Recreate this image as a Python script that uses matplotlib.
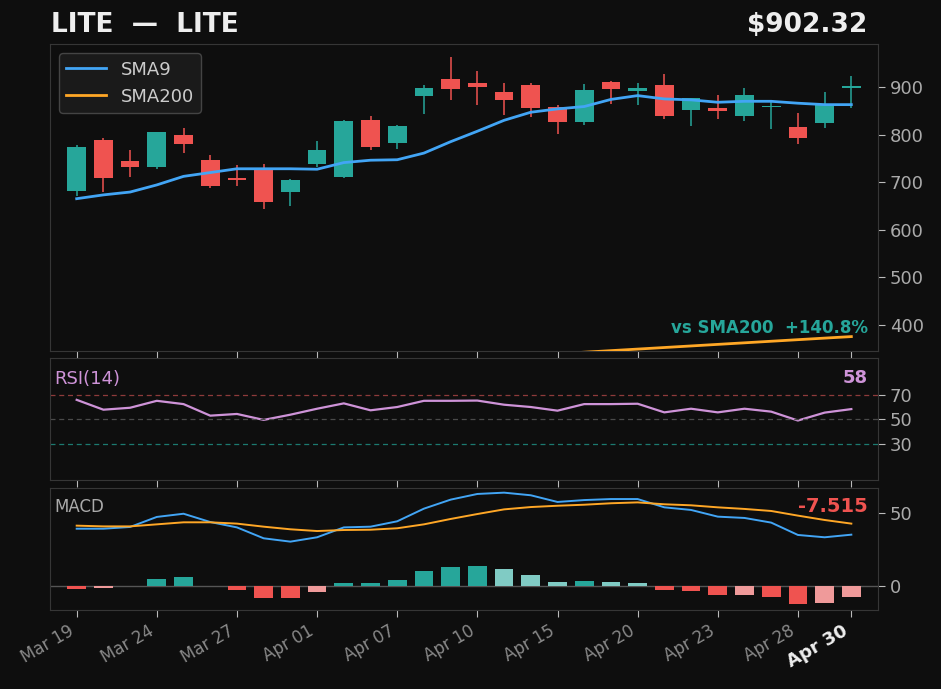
import matplotlib
matplotlib.use("Agg")
import matplotlib.pyplot as plt
import numpy as np

# daily bars, Mar 19 -> Apr 30
dates = ["Mar 19", "Mar 20", "Mar 23", "Mar 24", "Mar 25", "Mar 26", "Mar 27", "Mar 30",
         "Mar 31", "Apr 01", "Apr 02", "Apr 06", "Apr 07", "Apr 08", "Apr 09", "Apr 10",
         "Apr 13", "Apr 14", "Apr 15", "Apr 16", "Apr 17", "Apr 20", "Apr 21", "Apr 22",
         "Apr 23", "Apr 24", "Apr 27", "Apr 28", "Apr 29", "Apr 30"]
opens = [681, 788, 744, 732, 799, 746, 708, 727, 679, 738, 711, 830, 782, 882, 917,
         909, 889, 904, 858, 827, 911, 892, 904, 852, 855, 840, 859, 816, 825, 899]
closes = [773, 709, 732, 805, 780, 692, 705, 658, 704, 767, 828, 774, 818, 898, 896,
          901, 873, 856, 827, 894, 896, 897, 839, 877, 850, 883, 861, 793, 862, 902.32]
highs = [777, 792, 768, 806, 813, 756, 736, 737, 706, 787, 831, 839, 820, 904, 964,
         934, 909, 908, 863, 906, 913, 909, 928, 877, 884, 898, 870, 846, 890, 924]
lows = [671, 680, 711, 728, 762, 687, 691, 643, 650, 731, 708, 767, 769, 843, 873,
        863, 841, 836, 801, 820, 864, 863, 832, 818, 832, 828, 811, 780, 813, 856]

sma9 = [665, 673, 679, 694, 712, 720, 728, 728, 728, 727, 741, 746, 747, 761, 785,
        807, 830, 847, 854, 859, 874, 882, 875, 873, 868, 870, 870, 866, 863, 863]
sma200 = [287.0, 289.8, 292.5, 295.3, 298.1, 300.8, 303.5, 306.1, 308.8, 311.5,
          314.3, 317.2, 320.0, 323.0, 326.1, 329.2, 332.3, 335.4, 338.6, 341.8,
          345.1, 348.4, 351.7, 355.0, 358.3, 361.6, 364.9, 368.2, 371.5, 374.7]

rsi = [65.9, 57.8, 59.4, 65.1, 62.4, 52.9, 54.3, 49.4, 53.7, 58.6, 63.0, 57.3, 60.0,
       65.1, 65.1, 65.3, 61.9, 60.0, 57.0, 62.4, 62.4, 62.7, 55.6, 58.6, 55.6, 58.6,
       56.2, 48.9, 55.4, 58.3]

macd = [39.4, 39.4, 40.6, 47.5, 49.7, 44.0, 40.3, 32.8, 30.5, 33.5, 40.3, 40.8, 44.5,
        53.2, 59.4, 63.3, 64.2, 62.4, 57.8, 59.1, 59.8, 59.8, 54.1, 52.3, 47.7, 46.8,
        43.6, 35.1, 33.5, 35.3]
signal = [41.5, 41.0, 41.0, 42.4, 43.8, 43.8, 42.9, 40.8, 39.0, 37.8, 38.5, 38.7, 39.7,
          42.4, 46.1, 49.5, 52.7, 54.3, 55.2, 55.9, 56.9, 57.5, 56.2, 55.5, 54.1, 53.0,
          51.6, 48.4, 45.4, 42.9]
hist = [-1.8, -1.1, 0.0, 4.8, 6.2, 0.0, -2.5, -8.0, -8.1, -3.9, 2.1, 2.2, 4.1, 10.3,
        13.1, 13.8, 11.7, 7.6, 2.8, 3.4, 2.8, 2.1, -2.5, -3.4, -6.0, -5.9, -7.3, -12.2,
        -11.5, -7.515]

tick_idx = [0, 3, 6, 9, 12, 15, 18, 21, 24, 27, 29]

BG = "#0e0e0e"
UP = "#26a69a"
DOWN = "#ef5350"
SPINE = "#363636"
TXT = "#aaaaaa"

x = np.arange(len(dates))

fig = plt.figure(figsize=(9.41, 6.89), dpi=100, facecolor=BG)
ax = fig.add_axes([0.0531, 0.491, 0.880, 0.4447], facecolor=BG)
ax_rsi = fig.add_axes([0.0531, 0.3033, 0.880, 0.1766], facecolor=BG, sharex=ax)
ax_macd = fig.add_axes([0.0531, 0.1147, 0.880, 0.1766], facecolor=BG, sharex=ax)

for a in (ax, ax_rsi, ax_macd):
    for s in a.spines.values():
        s.set_color(SPINE)
    a.yaxis.tick_right()
    a.tick_params(colors="#bbbbbb", labelcolor=TXT, labelsize=13, length=5)
    a.tick_params(axis="x", length=5, labelbottom=False)
    a.set_xticks(tick_idx)

# candles
o = np.array(opens)
c = np.array(closes)
cols = [UP if cc >= oo else DOWN for oo, cc in zip(o, c)]
ax.vlines(x, lows, highs, colors=cols, linewidth=1.1, zorder=2)
body = np.maximum(np.abs(c - o), 2.0)
ax.bar(x, body, bottom=np.minimum(o, c), width=0.7, color=cols, zorder=3)
ax.plot(x, sma9, color="#42a5f5", lw=2, label="SMA9", zorder=4)
ax.plot(x, sma200, color="#ffa726", lw=2, label="SMA200", zorder=4)
ax.set_xlim(-1, 30)
ax.set_ylim(345, 990)
ax.set_yticks([400, 500, 600, 700, 800, 900])
leg = ax.legend(loc="upper left", fontsize=13, facecolor="#1a1a1a", edgecolor="#444444",
                labelcolor="#cccccc", framealpha=1, handlelength=2.2)
pct = (closes[-1] / sma200[-1] - 1) * 100
ax.text(0.988, 0.045, f"vs SMA200  {pct:+.1f}%", transform=ax.transAxes, ha="right",
        va="bottom", color=UP, fontsize=12, fontweight="bold")

# RSI
ax_rsi.plot(x, rsi, color="#ce93d8", lw=1.6)
ax_rsi.axhline(70, color="#8e3b3b", lw=0.9, ls=(0, (4, 3)))
ax_rsi.axhline(50, color="#4a4a4a", lw=0.9, ls=(0, (4, 3)))
ax_rsi.axhline(30, color="#1c7a70", lw=0.9, ls=(0, (4, 3)))
ax_rsi.set_ylim(0, 100)
ax_rsi.set_yticks([30, 50, 70])
ax_rsi.text(0.005, 0.83, "RSI(14)", transform=ax_rsi.transAxes, color="#ce93d8",
            fontsize=13, va="center", ha="left")
ax_rsi.text(0.988, 0.84, f"{rsi[-1]:.0f}", transform=ax_rsi.transAxes, color="#ce93d8",
            fontsize=13, fontweight="bold", va="center", ha="right")

# MACD
hcols = []
for i, h in enumerate(hist):
    prev = hist[i - 1] if i > 0 else 0
    if h >= 0:
        hcols.append(UP if h >= prev else "#80cbc4")
    else:
        hcols.append(DOWN if h <= prev else "#ef9a9a")
ax_macd.bar(x, hist, width=0.7, color=hcols, zorder=2)
ax_macd.axhline(0, color="#555555", lw=1, zorder=1)
ax_macd.plot(x, macd, color="#42a5f5", lw=1.4, zorder=3)
ax_macd.plot(x, signal, color="#ffa726", lw=1.4, zorder=3)
ax_macd.set_ylim(-16.5, 67.2)
ax_macd.set_yticks([0, 50])
ax_macd.text(0.005, 0.85, "MACD", transform=ax_macd.transAxes, color=TXT,
             fontsize=12, va="center", ha="left")
ax_macd.text(0.988, 0.85, f"{hist[-1]:.3f}", transform=ax_macd.transAxes, color=DOWN,
             fontsize=14, fontweight="bold", va="center", ha="right")

ax_macd.tick_params(axis="x", labelbottom=True)
ax_macd.set_xticklabels([dates[i] for i in tick_idx], rotation=30, ha="right")
for i, lbl in enumerate(ax_macd.get_xticklabels()):
    if i == len(tick_idx) - 1:
        lbl.set_color("#eeeeee")
        lbl.set_fontweight("bold")
        lbl.set_fontsize(13)
    else:
        lbl.set_color("#888888")
        lbl.set_fontsize(12)

fig.text(0.054, 0.963, "LITE  —  LITE", color="#eeeeee", fontsize=19,
         fontweight="bold", va="center", ha="left")
fig.text(0.922, 0.963, f"${closes[-1]:.2f}", color="#eeeeee", fontsize=19,
         fontweight="bold", va="center", ha="right")

fig.savefig("out.png", dpi=100, facecolor=BG)
